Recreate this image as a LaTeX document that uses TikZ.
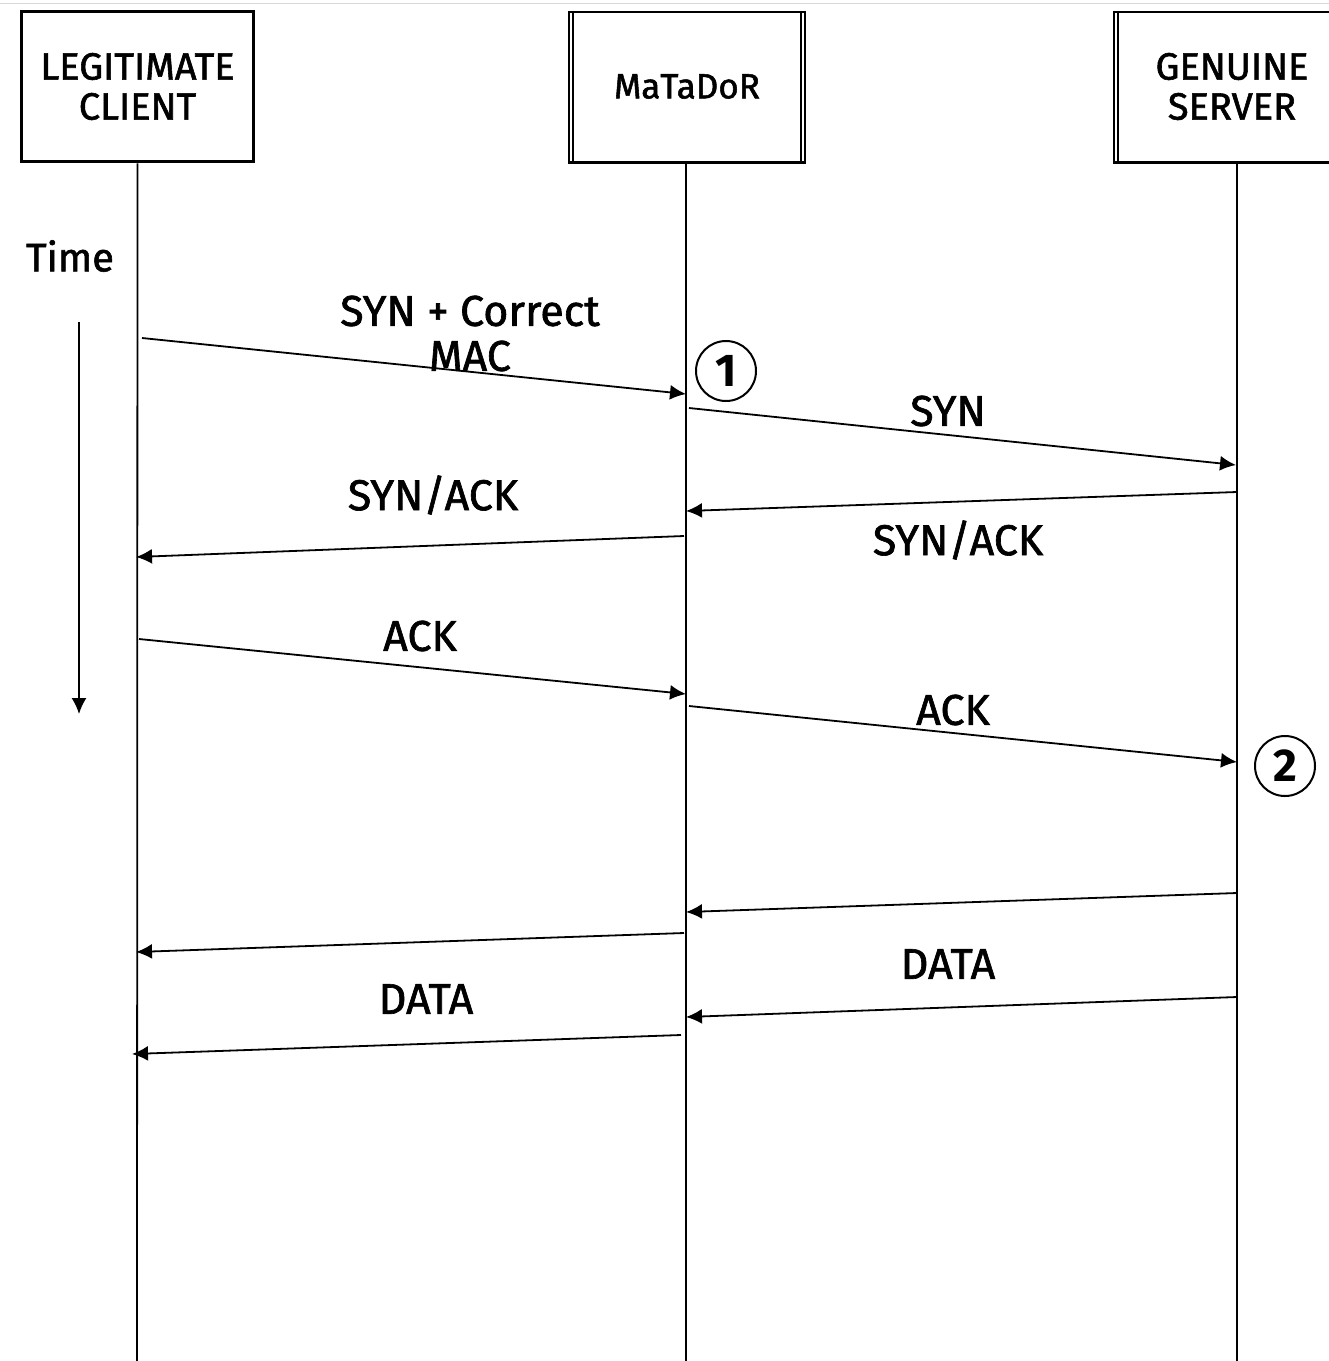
\documentclass[tikz,border=0pt]{standalone}
\usepackage{fontspec}
\setmainfont{Fira Sans}[UprightFeatures={FakeBold=1.5}]
\usetikzlibrary{arrows.meta}
\begin{document}
\begin{tikzpicture}[x=1pt,y=-1pt,
  hdr/.style={draw,line width=3.5pt,minimum width=232pt,minimum height=150pt,align=center,inner sep=0pt,font=\fontsize{38}{40}\selectfont},
  life/.style={line width=1.8pt},
  msg/.style={line width=1.8pt,-{Latex[length=16pt,width=15pt]}},
  lbl/.style={font=\fontsize{43}{45}\selectfont,inner sep=0pt},
  stepmark/.style={draw,circle,line width=2pt,minimum size=60pt,inner sep=0pt,font=\bfseries\fontsize{46}{46}\selectfont}
]
\useasboundingbox (0,0) rectangle (1329,1361);
\fill[white] (0,0) rectangle (1329,1361);
\draw[line width=1pt,black!15] (0,3) -- (1329,3);

% header boxes
\node[hdr] (client) at (137.5,86.5) {LEGITIMATE\\CLIENT};
\node[hdr,line width=2pt,minimum width=236pt,font=\fontsize{35}{40}\selectfont] (mat) at (687,86.5) {MaTaDoR};
\draw[line width=2pt] ([xshift=5pt]mat.north west) -- ([xshift=5pt]mat.south west);
\draw[line width=2pt] ([xshift=-5pt]mat.north east) -- ([xshift=-5pt]mat.south east);
\draw[line width=3.5pt] (mat.south west) -- (mat.south east);
\node[hdr,line width=2pt,minimum width=236pt] (srv) at (1232,86.5) {GENUINE\\SERVER};
\draw[line width=2pt] ([xshift=5pt]srv.north west) -- ([xshift=5pt]srv.south west);
\draw[line width=3.5pt] (srv.south west) -- (srv.south east);

% lifelines
\coordinate (cEnd) at (137,1361);
\coordinate (mEnd) at (686,1361);
\coordinate (sEnd) at (1237,1361);
\draw[life] (client.south) -- (cEnd);
\draw[life] (mat.south -| mEnd) -- (mEnd);
\draw[life] (srv.south -| sEnd) -- (sEnd);

% time
\node[font=\fontsize{40}{44}\selectfont,inner sep=0pt] (time) at (70,256) {Time};
\coordinate (t0) at (79,322);
\coordinate (t1) at (79,714);
\draw[msg] (t0) -- (t1);

% message endpoints
\coordinate (a1) at (142,338);  \coordinate (b1) at (686,394);
\coordinate (a2) at (689,408);  \coordinate (b2) at (1236,465);
\coordinate (a3) at (1237,492); \coordinate (b3) at (686,511);
\coordinate (a4) at (684,536);  \coordinate (b4) at (136,557);
\coordinate (a5) at (139,639);  \coordinate (b5) at (686,694);
\coordinate (a6) at (689,706);  \coordinate (b6) at (1237,762);
\coordinate (a7) at (1237,893); \coordinate (b7) at (686,912);
\coordinate (a8) at (684,933);  \coordinate (b8) at (136,952);
\coordinate (a9) at (1237,997); \coordinate (b9) at (686,1017);
\coordinate (a10) at (681,1035); \coordinate (b10) at (132,1054);

\foreach \i in {1,...,10} {\draw[msg] (a\i) -- (b\i);}

% labels
\node[lbl] (l1a) at (470,311) {SYN + Correct};
\node[lbl] (l1b) at (470,356) {MAC};
\node[lbl] (l2) at (948,411) {SYN};
\node[lbl] (l3) at (958,540) {SYN/ACK};
\node[lbl] (l4) at (433,495) {SYN/ACK};
\node[lbl] (l5) at (420,636) {ACK};
\node[lbl] (l6) at (953,710) {ACK};
\node[lbl] (l9) at (948,964) {DATA};
\node[lbl] (l10) at (426,999) {DATA};

% markers
\node[stepmark] (m1) at (726,371) {1};
\node[stepmark] (m2) at (1285,766) {2};
\end{tikzpicture}
\end{document}
